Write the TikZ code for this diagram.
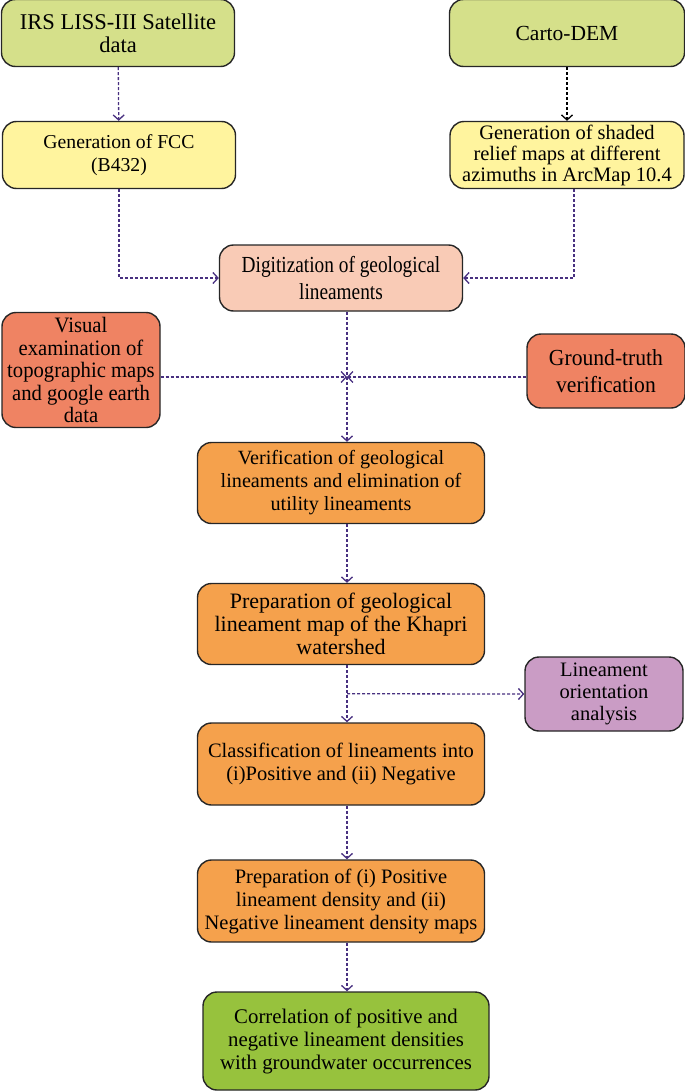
\documentclass[tikz,border=0pt]{standalone}
\usepackage{fontspec}
\usepackage{tikz}
\usetikzlibrary{arrows.meta,calc}
\setmainfont{Liberation Serif}
\newfontfamily\condfont[FakeStretch=0.84]{Liberation Serif}
\newfontfamily\narrowfont[FakeStretch=0.94]{Liberation Serif}
\definecolor{flowcol}{RGB}{72,48,128}

\begin{document}
\begin{tikzpicture}[x=1pt,y=-1pt,
    box/.style={draw=black!85, line width=1.4pt, rounded corners=14pt, align=center, inner sep=1pt},
    school/.style={font=\fontsize{20.5}{23}\selectfont},
    camb/.style={font=\fontsize{20.5}{23}\selectfont},
    cond/.style={font=\condfont\fontsize{23}{27}\selectfont},
    flow/.style={draw=flowcol, line width=1.3pt, dash pattern=on 3pt off 2pt,
        -{Straight Barb[length=5pt,width=11pt,line width=1.3pt]}}]
    % Define colors for each kind of step
    \definecolor{datacolor}{RGB}{213,224,138}  % Olive green
    \definecolor{gencolor}{RGB}{255,244,158}   % Pale yellow
    \definecolor{digcolor}{RGB}{249,203,182}   % Peach
    \definecolor{checkcolor}{RGB}{239,131,99}  % Salmon
    \definecolor{stepcolor}{RGB}{245,161,76}   % Orange
    \definecolor{anacolor}{RGB}{202,156,197}   % Mauve
    \definecolor{endcolor}{RGB}{151,194,61}    % Leaf green

    \useasboundingbox (0,0) rectangle (685,1092);

    % Input data
    \node[box, school, fill=datacolor, minimum width=233, minimum height=67, font=\fontsize{22.5}{23}\selectfont] (irs) at (118,33) {IRS LISS-III Satellite\\data};
    \node[box, school, fill=datacolor, minimum width=235, minimum height=67, font=\fontsize{21.5}{23}\selectfont] (dem) at (567,33) {Carto-DEM};

    % Generation
    \node[box, camb, fill=gencolor, minimum width=233, minimum height=67, font=\fontsize{19.7}{23}\selectfont] (fcc) at (119,155) {Generation of FCC\\(B432)};
    \node[box, camb, fill=gencolor, minimum width=234, minimum height=67, font=\fontsize{20.5}{21}\selectfont] (relief) at (567,155) {Generation of shaded\\relief maps at different\\azimuths in ArcMap 10.4};

    % Digitization and checks
    \node[box, cond, fill=digcolor, minimum width=243, minimum height=66] (digit) at (341,278) {Digitization of geological\\lineaments};
    \node[box, cond, fill=checkcolor, minimum width=158, minimum height=115, font=\narrowfont\fontsize{22}{22.5}\selectfont] (visual) at (81,370) {Visual\\examination of\\topographic maps\\and google earth\\data};
    \node[box, cond, fill=checkcolor, minimum width=158, minimum height=74, font=\narrowfont\fontsize{23}{27}\selectfont] (ground) at (606,371) {Ground-truth\\verification};
    \coordinate (meet) at (347,377);

    % Main steps
    \node[box, school, fill=stepcolor, minimum width=287, minimum height=81, font=\fontsize{20.2}{23}\selectfont] (verif) at (341,483) {Verification of geological\\lineaments and elimination of\\utility lineaments};
    \node[box, school, fill=stepcolor, minimum width=287, minimum height=81, font=\fontsize{22}{23}\selectfont] (prep) at (341,624) {Preparation of geological\\lineament map of the Khapri\\watershed};
    \node[box, camb, fill=anacolor, minimum width=158, minimum height=74, font=\fontsize{20.5}{22}\selectfont] (orient) at (604,694) {Lineament\\orientation\\analysis};
    \node[box, camb, fill=stepcolor, minimum width=287, minimum height=82] (classif) at (341,764) {Classification of lineaments into\\(i)Positive and (ii) Negative};
    \node[box, school, fill=stepcolor, minimum width=287, minimum height=82] (dens) at (341,901) {Preparation of (i) Positive\\lineament density and (ii)\\Negative lineament density maps};
    \node[box, camb, fill=endcolor, minimum width=286, minimum height=98, font=\fontsize{20.8}{23}\selectfont] (corr) at (346,1041) {Correlation of positive and\\negative lineament densities\\with groundwater occurrences};

    % Connectors
    \draw[flow] (irs) -- (fcc);
    \draw[flow, draw=black] (dem) -- (relief);
    \draw[flow] (fcc.south) |- (digit.west);
    \draw[flow] ([xshift=7pt]relief.south) |- (digit.east);
    \draw[flow] (digit.south -| meet) -- (verif.north -| meet);
    \draw[flow] (visual.east |- meet) -- (meet);
    \draw[flow] (ground.west |- meet) -- (meet);
    \draw[flow] (verif.south -| meet) -- (prep.north -| meet);
    \draw[flow] (prep.south -| meet) -- (classif.north -| meet);
    \draw[flow] ($(prep.south -| meet)!0.5!(classif.north -| meet)$) -- (orient.west);
    \draw[flow] (classif.south -| meet) -- (dens.north -| meet);
    \draw[flow] (dens.south -| meet) -- (corr.north -| meet);
\end{tikzpicture}
\end{document}
